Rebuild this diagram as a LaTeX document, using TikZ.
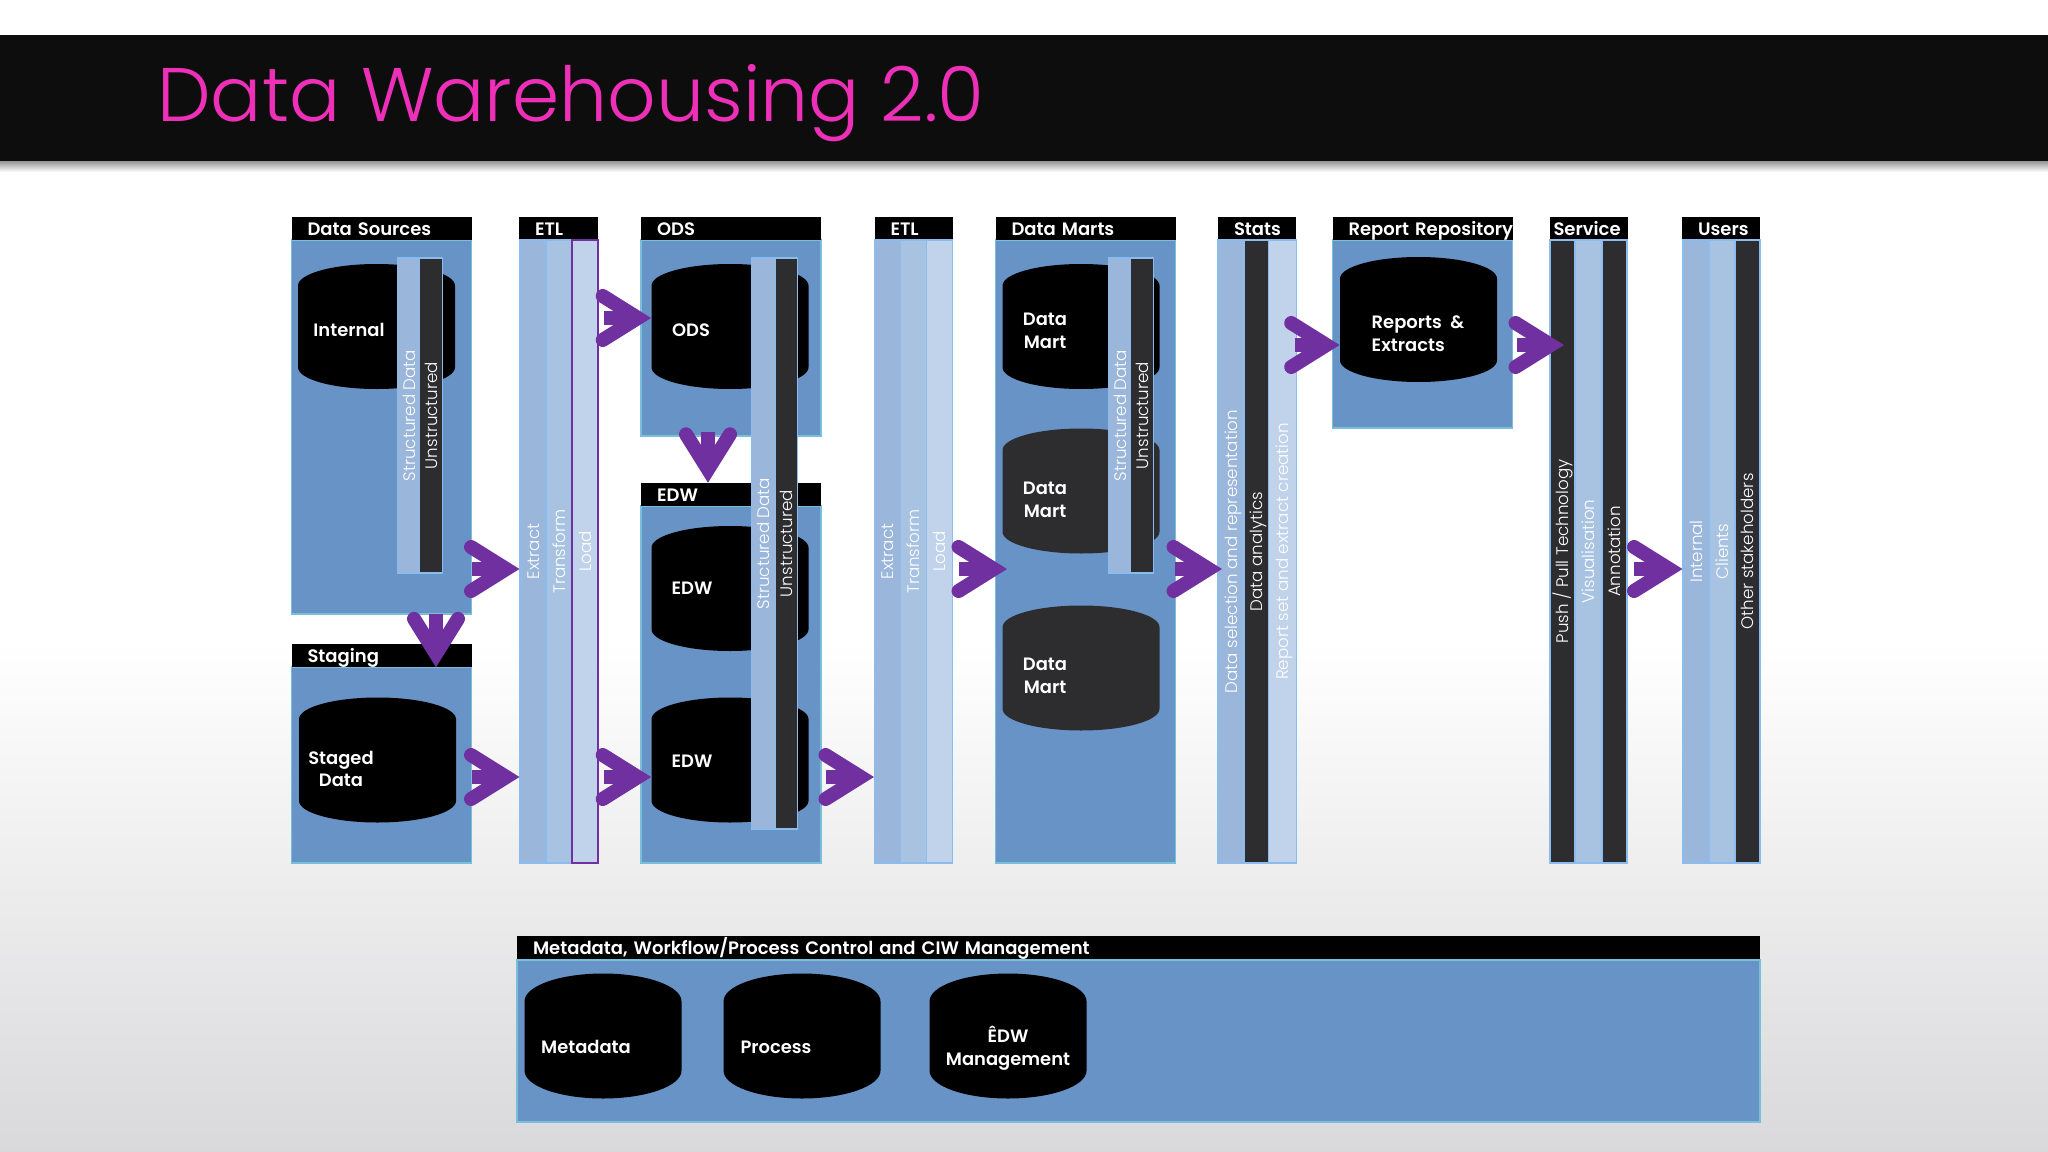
\documentclass[tikz,border=0pt]{standalone}
\usepackage{fontspec}
\setmainfont{Poppins}[UprightFont=* Light,BoldFont=* SemiBold]
\usetikzlibrary{shapes.geometric}
\usetikzlibrary{positioning}
\usetikzlibrary{arrows.meta}
\newlength{\pxu}
\setlength{\pxu}{0.02cm}
\definecolor{titlePink}{HTML}{EE2FB8}
\definecolor{boxBlue}{HTML}{6893C7}
\definecolor{boxEdge}{HTML}{78C0DA}
\definecolor{bandEdge}{HTML}{8CBCEE}
\definecolor{bandA}{HTML}{9AB6DB}
\definecolor{bandB}{HTML}{A8C3E1}
\definecolor{bandC}{HTML}{C0D3EA}
\definecolor{darkBar}{HTML}{2D2D2F}
\definecolor{flowPurple}{HTML}{7030A0}
\definecolor{bottomGrey}{HTML}{D9D9DB}
\tikzset{
    x=\pxu, y=-\pxu,
    hdr/.style={rectangle, fill=black, text=white, inner xsep=0pt, inner ysep=0pt, text height=10.2pt, text depth=2.8pt, font=\fontsize{10.25}{10.25}\selectfont\bfseries, align=left, execute at begin node={\hspace*{16\pxu}}},
    body/.style={rectangle, fill=boxBlue, draw=boxEdge, line width=1pt, inner sep=0pt},
    band/.style={rectangle, rotate=90, draw=bandEdge, line width=0.6pt, inner sep=0pt, text=white, text height=8.5pt, text depth=1.3pt, font=\fontsize{9.5}{9.5}\selectfont},
    db/.style={cylinder, shape border rotate=90, aspect=.28, inner xsep=44pt, inner ysep=0pt, minimum width=157\pxu, minimum height=125\pxu, fill=black, anchor=shape center},
    dbtext/.style={text=white, inner sep=0pt, align=center, font=\fontsize{10.2}{13}\selectfont\bfseries},
    flow/.style={draw=flowPurple, line width=8pt, -{Straight Barb[length=20pt, width=25pt, line cap=round, line join=miter]}}
}
\begin{document}
\begin{tikzpicture}
    \useasboundingbox (0,0) rectangle (2048,1152);
    % page and title
    \fill[white] (0,0) rectangle (2048,640);
    \shade[top color=white, bottom color=bottomGrey] (0,640) rectangle (2048,1152);
    \shade[top color=black!45, bottom color=white] (0,160) rectangle (2048,172);
    \fill[black!95] (0,35) rectangle (2048,161);
    \node (title) [anchor=base west, inner sep=0pt, text=titlePink, font=\fontsize{43.2}{43.2}\selectfont] at (157,122) {Data Warehousing 2.0};

    % boxes
    \node (dsBody) [body, minimum width=180\pxu, minimum height=374\pxu] at (381.5,427) {};
    \node (dsHead) [hdr, text width=180\pxu] at (381.5,228.5) {Data Sources};
    \node (stBody) [body, minimum width=180\pxu, minimum height=196\pxu] at (381.5,765) {};
    \node (stHead) [hdr, text width=180\pxu] at (381.5,655.5) {Staging};
    \node (odsBody) [body, minimum width=180\pxu, minimum height=196\pxu] at (731,338) {};
    \node (odsHead) [hdr, text width=180\pxu] at (731,228.5) {ODS};
    \node (edwBody) [body, minimum width=180\pxu, minimum height=357\pxu] at (731,684.5) {};
    \node (edwHead) [hdr, text width=180\pxu] at (731,494.5) {EDW};
    \node (dmBody) [body, minimum width=180\pxu, minimum height=623\pxu] at (1085.5,551.5) {};
    \node (dmHead) [hdr, text width=180\pxu] at (1085.5,228.5) {Data Marts};
    \node (rrBody) [body, minimum width=180\pxu, minimum height=188\pxu] at (1422.5,334) {};
    \node (rrHead) [hdr, text width=180\pxu] at (1422.5,228.5) {\mbox{Report Repository}};
    \node (mdBody) [body, minimum width=1243\pxu, minimum height=162\pxu] at (1138.5,1041) {};
    \node (mdHead) [hdr, text width=1243\pxu] at (1138.5,947.5) {Metadata, Workflow/Process Control and CIW Management};

    % cylinders
    \node (intDb) [db] at (376.5,326.5) {};
    \node (stgDb) [db] at (377.5,760) {};
    \node (odsDb) [db] at (730,326.5) {};
    \node (edwDbA) [db] at (730,588.5) {};
    \node (edwDbB) [db] at (730,760) {};
    \node (dmDbA) [db] at (1081,326.5) {};
    \node (dmDbB) [db, fill=darkBar] at (1081,491) {};
    \node (dmDbC) [db, fill=darkBar] at (1081,668) {};
    \node (rrDb) [db] at (1418.5,319.5) {};
    \node (mdDbA) [db, aspect=.36] at (603,1036) {};
    \node (mdDbB) [db, aspect=.36] at (802,1036) {};
    \node (mdDbC) [db, aspect=.36] at (1008,1036) {};

    \node (intText) [dbtext] at (349,330) {Internal};
    \node (stgText) [dbtext] at (341,769) {Staged\\Data};
    \node (odsText) [dbtext] at (691,330) {ODS};
    \node (edwTextA) [dbtext] at (692,588) {EDW};
    \node (edwTextB) [dbtext] at (692,761) {EDW};
    \node (dmTextA) [dbtext] at (1045,330.5) {Data\\Mart};
    \node (dmTextB) [dbtext] at (1045,500) {Data\\Mart};
    \node (dmTextC) [dbtext] at (1045,676) {Data\\Mart};
    \node (rrText) [dbtext, align=left] at (1418,334) {Reports~~\&\\Extracts};
    \node (mdTextA) [dbtext] at (586,1047) {Metadata};
    \node (mdTextB) [dbtext] at (776,1047) {Process};
    \node (mdTextC) [dbtext] at (1008,1048) {ÊDW\\Management};

    % bars over the cylinders
    \node (dsStr) [band, fill=bandA, minimum width=315\pxu, minimum height=22.5\pxu] at (409,415.5) {Structured Data};
    \node (dsUns) [right of=dsStr, node distance=22\pxu, band, fill=darkBar, minimum width=315\pxu, minimum height=22.5\pxu] {Unstructured};
    \node (odsStr) [band, fill=bandA, minimum width=571\pxu, minimum height=24\pxu] at (763.5,543.5) {Structured Data};
    \node (odsUns) [right of=odsStr, node distance=23\pxu, band, fill=darkBar, minimum width=571\pxu, minimum height=22\pxu] {Unstructured};
    \node (dmStr) [band, fill=bandA, minimum width=315\pxu, minimum height=22.5\pxu] at (1120,415.5) {Structured Data};
    \node (dmUns) [right of=dmStr, node distance=22\pxu, band, fill=darkBar, minimum width=315\pxu, minimum height=22.5\pxu] {Unstructured};

    % ETL
    \node (etlHead) [hdr, text width=79\pxu] at (558.5,228.5) {ETL};
    \node (etlExt) [band, fill=bandA, minimum width=623\pxu, minimum height=26\pxu] at (533,551.5) {Extract};
    \node (etlTra) [right of=etlExt, node distance=26\pxu, band, fill=bandB, minimum width=623\pxu, minimum height=25\pxu] {Transform};
    \node (etlLoa) [right of=etlTra, node distance=26\pxu, band, fill=bandC, draw=flowPurple, line width=1pt, minimum width=623\pxu, minimum height=26\pxu] {Load};

    \node (etbHead) [hdr, text width=78\pxu] at (913.5,228.5) {ETL};
    \node (etbExt) [band, fill=bandA, minimum width=623\pxu, minimum height=26\pxu] at (887.5,551.5) {Extract};
    \node (etbTra) [right of=etbExt, node distance=26\pxu, band, fill=bandB, minimum width=623\pxu, minimum height=26\pxu] {Transform};
    \node (etbLoa) [right of=etbTra, node distance=26\pxu, band, fill=bandC, minimum width=623\pxu, minimum height=26\pxu] {Load};

    % Stats
    \node (stsHead) [hdr, text width=78\pxu] at (1257,228.5) {Stats};
    \node (stsSel) [band, fill=bandA, minimum width=623\pxu, minimum height=26\pxu] at (1231,551.5) {Data selection and representation};
    \node (stsAna) [right of=stsSel, node distance=25.5\pxu, band, fill=darkBar, minimum width=623\pxu, minimum height=24\pxu] {Data analytics};
    \node (stsRep) [right of=stsAna, node distance=26\pxu, band, fill=bandC, minimum width=623\pxu, minimum height=28\pxu] {Report set and extract creation};

    % Service
    \node (svcHead) [hdr, text width=78\pxu, execute at begin node={\hspace*{-12\pxu}}] at (1588.5,228.5) {Service};
    \node (svcPsh) [band, fill=darkBar, minimum width=623\pxu, minimum height=25\pxu] at (1562.5,551.5) {Push / Pull Technology};
    \node (svcVis) [right of=svcPsh, node distance=26\pxu, band, fill=bandB, minimum width=623\pxu, minimum height=27\pxu] {Visualisation};
    \node (svcAnn) [right of=svcVis, node distance=26\pxu, band, fill=darkBar, minimum width=623\pxu, minimum height=25\pxu] {Annotation};

    % Users
    \node (usrHead) [hdr, text width=78\pxu] at (1721,228.5) {Users};
    \node (usrInt) [band, fill=bandA, minimum width=623\pxu, minimum height=26\pxu] at (1696,551.5) {Internal};
    \node (usrCli) [right of=usrInt, node distance=26\pxu, band, fill=bandB, minimum width=623\pxu, minimum height=26\pxu] {Clients};
    \node (usrOth) [right of=usrCli, node distance=25.5\pxu, band, fill=darkBar, minimum width=623\pxu, minimum height=25\pxu] {Other stakeholders};

    % arrows
    \coordinate (fDs) at (472,569);
    \coordinate (fStg) at (472,777);
    \coordinate (fDown) at (436,614);
    \coordinate (fOds) at (604,318);
    \coordinate (fEdw) at (604,777);
    \coordinate (fOdsDown) at (708,432);
    \coordinate (fEtb) at (826,777);
    \coordinate (fDm) at (959,569);
    \coordinate (fDmEnd) at (1007,569);
    \coordinate (fSts) at (1175,569);
    \coordinate (fStsEnd) at (1222,569);
    \coordinate (fRep) at (1295,345);
    \coordinate (fSvc) at (1517,345);
    \coordinate (fSvcEnd) at (1564,345);
    \coordinate (fUsr) at (1634,569);

    \draw[flow] (fDs) -- (fDs -| etlExt.north);
    \draw[flow] (fStg) -- (fStg -| etlExt.north);
    \draw[flow] (fDown) -- (fDown |- stHead.south);
    \draw[flow] (fOds) -- (fOds -| odsDb.west);
    \draw[flow] (fEdw) -- (fEdw -| edwDbB.west);
    \draw[flow] (fOdsDown) -- (fOdsDown |- edwHead.north);
    \draw[flow] (fEtb) -- (fEtb -| etbExt.north);
    \draw[flow] (fDm) -- (fDmEnd);
    \draw[flow] (fSts) -- (fStsEnd);
    \draw[flow] (fRep) -- (fRep -| rrDb.west);
    \draw[flow] (fSvc) -- (fSvcEnd);
    \draw[flow] (fUsr) -- (fUsr -| usrInt.north);
\end{tikzpicture}
\end{document}
